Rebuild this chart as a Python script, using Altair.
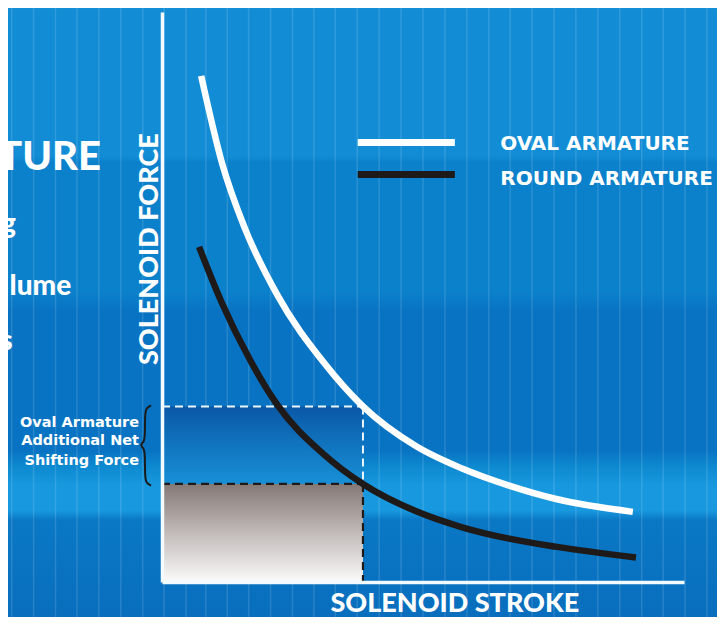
import altair as alt
import pandas as pd

# ---------------- data ----------------
# axes: stroke 0..100 (left->right), force 0..100 (bottom->top)
oval_stroke = [7.5, 11.5, 15.9, 22.0, 31.0, 38.5, 48.7, 57.5, 66.5, 75.3, 90.2]
oval_force = [88.8, 73.5, 62.0, 50.5, 38.5, 30.8, 23.8, 19.9, 16.9, 14.6, 12.3]
round_stroke = [7.1, 11.5, 16.9, 22.0, 31.0, 38.5, 48.7, 57.5, 66.5, 75.3, 90.8]
round_force = [58.8, 48.9, 38.9, 31.2, 22.4, 17.2, 12.4, 9.6, 7.6, 6.2, 4.3]

series_names = ["OVAL ARMATURE", "ROUND ARMATURE"]
series_colors = ["#ffffff", "#1e1a1a"]

ref_stroke = 38.5          # dashed reference stroke
ref_force_oval = 30.8      # oval force at reference stroke
ref_force_round = 17.2     # round force at reference stroke

annot_lines = ["Oval Armature", "Additional Net", "Shifting Force"]
left_fragments = ["TURE", "g", "lume", "s"]

# brace outline (data units)
brace_x = [-2.1, -3.07, -3.26, -3.26, -3.45, -4.21, -3.45, -3.26, -3.26, -3.07, -2.1]
brace_y = [31.0, 30.5, 29.3, 25.6, 24.6, 24.0, 23.4, 22.4, 18.6, 17.4, 16.9]

# background decoration: stripe positions (data units)
stripe_x = [-28.8, -24.6, -20.4, -16.3, -12.1, -7.9, -3.7, 0.4, 4.6, 8.4, 12.5, 16.6,
            20.8, 25.0, 29.1, 33.2, 37.4, 41.6, 45.8, 50.0, 54.2, 58.4, 62.6, 66.7,
            70.9, 75.1, 79.3, 83.5, 87.7, 91.9, 96.0, 100.2, 104.4]

# ---------------- scales / axes ----------------
XS = alt.Scale(domain=[0, 100], nice=False, zero=False)
YS = alt.Scale(domain=[0, 100], nice=False, zero=False)
AX = alt.Axis(labels=False, ticks=False, grid=False, title=None,
              domainColor="#f4fbff", domainWidth=3.5, zindex=1)


def X(f):
    return alt.X(f, type="quantitative", scale=XS, axis=AX)


def Y(f):
    return alt.Y(f, type="quantitative", scale=YS, axis=AX)


# background with horizontal bands
bg_grad = alt.LinearGradient(
    gradient="linear", x1=0, x2=0, y1=0, y2=1,
    stops=[
        alt.GradientStop(offset=0.0, color="#2398da"),
        alt.GradientStop(offset=0.025, color="#128dd5"),
        alt.GradientStop(offset=0.255, color="#128dd5"),
        alt.GradientStop(offset=0.265, color="#0b80cb"),
        alt.GradientStop(offset=0.47, color="#0b80cb"),
        alt.GradientStop(offset=0.50, color="#0873c2"),
        alt.GradientStop(offset=0.72, color="#0873c2"),
        alt.GradientStop(offset=0.745, color="#0d89d0"),
        alt.GradientStop(offset=0.775, color="#1898de"),
        alt.GradientStop(offset=0.815, color="#1898de"),
        alt.GradientStop(offset=0.83, color="#0a78c5"),
        alt.GradientStop(offset=1.0, color="#086dbc"),
    ],
)
bg_df = pd.DataFrame({"x0": [-32], "x1": [110], "y0": [-8], "y1": [103]})
bg = alt.Chart(bg_df).mark_rect(color=bg_grad, clip=False).encode(
    x=X("x0"), x2="x1", y=Y("y0"), y2="y1")

stripes_df = pd.DataFrame({"x": stripe_x, "y0": -8, "y1": 103})
stripes = alt.Chart(stripes_df).mark_rule(color="#ffffff", opacity=0.13, strokeWidth=1.5,
                                          clip=False).encode(
    x=X("x"), y=Y("y0"), y2="y1")

blue_grad = alt.LinearGradient(
    gradient="linear", x1=0, x2=0, y1=0, y2=1,
    stops=[alt.GradientStop(offset=0, color="#0a58a6"),
           alt.GradientStop(offset=1, color="#1890d7")])
gray_grad = alt.LinearGradient(
    gradient="linear", x1=0, x2=0, y1=0, y2=1,
    stops=[alt.GradientStop(offset=0, color="#847875"),
           alt.GradientStop(offset=0.5, color="#c2bbb9"),
           alt.GradientStop(offset=1, color="#fbfafa")])

blue_df = pd.DataFrame({"x0": [0], "x1": [ref_stroke], "y0": [ref_force_round], "y1": [ref_force_oval]})
gray_df = pd.DataFrame({"x0": [0], "x1": [ref_stroke], "y0": [0], "y1": [ref_force_round]})
blue_rect = alt.Chart(blue_df).mark_rect(color=blue_grad).encode(
    x=X("x0"), x2="x1", y=Y("y0"), y2="y1")
gray_rect = alt.Chart(gray_df).mark_rect(color=gray_grad).encode(
    x=X("x0"), x2="x1", y=Y("y0"), y2="y1")

white_dash_df = pd.DataFrame({"x0": [0, ref_stroke], "x1": [ref_stroke, ref_stroke],
                              "y0": [ref_force_oval, ref_force_oval], "y1": [ref_force_oval, ref_force_round]})
black_dash_df = pd.DataFrame({"x0": [0, ref_stroke], "x1": [ref_stroke, ref_stroke],
                              "y0": [ref_force_round, ref_force_round], "y1": [ref_force_round, 0]})
white_dash = alt.Chart(white_dash_df).mark_rule(color="#eaf5fc", strokeWidth=2, strokeDash=[8, 5]).encode(
    x=X("x0"), x2="x1", y=Y("y0"), y2="y1")
black_dash = alt.Chart(black_dash_df).mark_rule(color="#1e1a1a", strokeWidth=2.2, strokeDash=[8, 5]).encode(
    x=X("x0"), x2="x1", y=Y("y0"), y2="y1")

curve_df = pd.DataFrame({
    "stroke": oval_stroke + round_stroke,
    "force": oval_force + round_force,
    "series": [series_names[0]] * len(oval_stroke) + [series_names[1]] * len(round_stroke),
})
curves = alt.Chart(curve_df).mark_line(strokeWidth=6.5, interpolate="monotone", strokeCap="butt").encode(
    x=X("stroke"), y=Y("force"),
    color=alt.Color("series:N", scale=alt.Scale(domain=series_names, range=series_colors), legend=None),
    detail="series:N")

brace_df = pd.DataFrame({"x": brace_x, "y": brace_y, "i": list(range(len(brace_x)))})
brace = alt.Chart(brace_df).mark_line(color="#1a1a1a", strokeWidth=2, interpolate="basis", clip=False).encode(
    x=X("x"), y=Y("y"), order="i:Q")

# legend
leg_df = pd.DataFrame({"x0": [37.5, 37.5], "x1": [56.1, 56.1], "y": [77.1, 71.5],
                       "series": series_names, "tx": [64.8, 64.8], "ty": [75.8, 69.6]})
leg_lines = alt.Chart(leg_df).mark_rule(strokeWidth=7).encode(
    x=X("x0"), x2="x1", y=Y("y"),
    color=alt.Color("series:N", scale=alt.Scale(domain=series_names, range=series_colors), legend=None))
leg_text = alt.Chart(leg_df).mark_text(align="left", baseline="alphabetic", font="DejaVu Sans",
                                       fontWeight="bold", fontSize=20, color="white").encode(
    x=X("tx"), y=Y("ty"), text="series:N")

# axis titles
ytitle = alt.Chart(pd.DataFrame({"x": [-0.8], "y": [58.4], "t": ["SOLENOID FORCE"]})).mark_text(
    angle=270, align="center", baseline="alphabetic", font="Lato", fontWeight=900,
    fontSize=27, color="white", clip=False).encode(x=X("x"), y=Y("y"), text="t:N")
xtitle = alt.Chart(pd.DataFrame({"x": [56.1], "y": [-5.2], "t": ["SOLENOID STROKE"]})).mark_text(
    align="center", baseline="alphabetic", font="Lato", fontWeight=900,
    fontSize=27, color="white", clip=False).encode(x=X("x"), y=Y("y"), text="t:N")

# annotation
annot_df = pd.DataFrame({"x": [-4.4] * 3, "y": [27.2, 24.0, 20.5], "t": annot_lines})
annot = alt.Chart(annot_df).mark_text(align="right", baseline="alphabetic", font="DejaVu Sans",
                                      fontWeight="bold", fontSize=14.5, color="white", clip=False).encode(
    x=X("x"), y=Y("y"), text="t:N")

# cut-off brochure text on the left
frag_big = alt.Chart(pd.DataFrame({"x": [-11.7], "y": [72.3], "t": [left_fragments[0]]})).mark_text(
    align="right", baseline="alphabetic", font="Lato",
    fontWeight=900, fontSize=40, color="white", clip=False).encode(x=X("x"), y=Y("y"), text="t:N")
frag_df = pd.DataFrame({"x": [-28.0, -17.4, -28.6], "y": [61.2, 50.4, 40.7], "t": left_fragments[1:]})
frag_small = alt.Chart(frag_df).mark_text(
    align="right", baseline="alphabetic", font="Lato",
    fontWeight=900, fontSize=28, color="white", clip=False).encode(x=X("x"), y=Y("y"), text="t:N")

chart = alt.layer(
    bg, stripes, blue_rect, gray_rect, white_dash, black_dash, curves, brace,
    leg_lines, leg_text, ytitle, xtitle, annot, frag_big, frag_small,
).properties(
    width=522, height=570,
    autosize=alt.AutoSizeParams(type="none"),
    padding={"left": 154, "top": 4, "right": 33, "bottom": 35},
    background="#0b80cb",
).configure_view(stroke=None)

chart.save("out.html", embed_options={"renderer": "svg", "actions": False})
